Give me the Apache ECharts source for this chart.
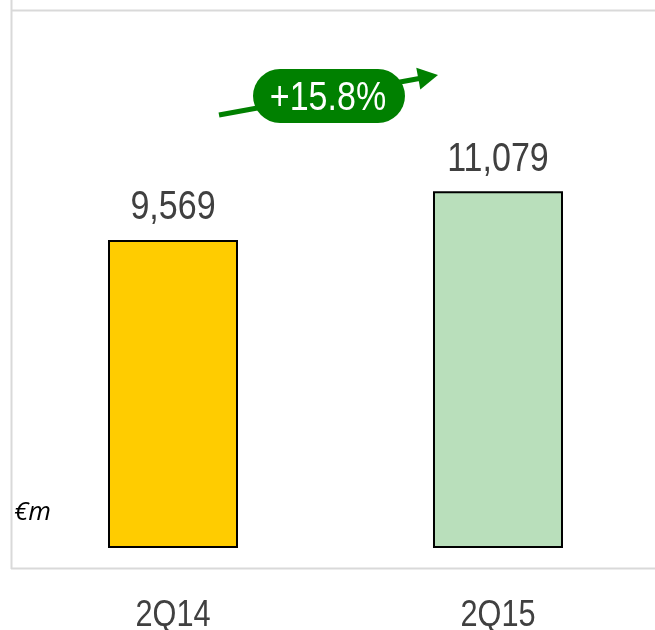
<!DOCTYPE html>
<html>
<head>
<meta charset="utf-8">
<script src="https://cdn.jsdelivr.net/npm/echarts@6/dist/echarts.min.js"></script>
<style>
html,body{margin:0;padding:0;background:#fff;}
#chart{width:655px;height:630px;}
</style>
</head>
<body>
<div id="chart"></div>
<script>
const categories = ['2Q14', '2Q15'];
const values = [9569, 11079];
const barColors = ['#FFCC00', '#B9DFBB'];
const growthLabel = '+15.8%';
const unitLabel = '€m';

const chart = echarts.init(document.getElementById('chart'));
const fontFam = '"Liberation Sans", Arial, sans-serif';
const SX = 0.83;

chart.setOption({
  animation: false,
  backgroundColor: '#ffffff',
  grid: { left: 10.5, right: 0, top: 97.2, bottom: 82 },
  xAxis: {
    type: 'value',
    min: -0.5,
    max: 1.4831,
    show: false,
    splitLine: { show: false }
  },
  yAxis: {
    type: 'value',
    min: 0,
    max: 14000,
    show: false,
    splitLine: { show: false }
  },
  series: [{
    type: 'bar',
    barWidth: 130,
    data: values.map((v, i) => ({
      value: [i, v],
      itemStyle: { color: barColors[i], borderColor: '#000000', borderWidth: 2 }
    })),
    label: { show: false }
  }]
});

const g = [
  { type: 'line', shape: { x1: 11.5, y1: 0, x2: 11.5, y2: 569 }, style: { stroke: '#D9D9D9', lineWidth: 2 } },
  { type: 'line', shape: { x1: 11, y1: 10.5, x2: 655, y2: 10.5 }, style: { stroke: '#D9D9D9', lineWidth: 2 } },
  { type: 'line', shape: { x1: 11, y1: 568.5, x2: 655, y2: 568.5 }, style: { stroke: '#D9D9D9', lineWidth: 2 } },
  { type: 'text', left: 14, top: 500, style: { text: unitLabel, fontSize: 26, fontStyle: 'italic', fill: '#000', fontFamily: '"Open Sans", sans-serif' } },
  { type: 'line', shape: { x1: 219, y1: 115, x2: 422, y2: 78 }, style: { stroke: '#008000', lineWidth: 5 } },
  { type: 'polygon', shape: { points: [[438, 75], [420.3, 89.4], [416.3, 67.8]] }, style: { fill: '#008000' } },
  { type: 'rect', shape: { x: 253, y: 69, width: 152, height: 54, r: 27 }, style: { fill: '#008000' } },
  { type: 'text', x: 328, y: 99, scaleX: SX, style: { text: growthLabel, fontSize: 41, fill: '#ffffff', fontFamily: fontFam, align: 'center', verticalAlign: 'middle' } }
];

values.forEach((v, i) => {
  const top = chart.convertToPixel({ seriesIndex: 0 }, [i, v]);
  const base = chart.convertToPixel({ seriesIndex: 0 }, [i, 0]);
  g.push({ type: 'text', x: top[0], y: top[1] - 32, scaleX: SX,
    style: { text: v.toLocaleString('en-US'), fontSize: 41, fill: '#404040', fontFamily: fontFam, align: 'center', verticalAlign: 'middle' } });
  g.push({ type: 'text', x: base[0], y: base[1] + 68, scaleX: SX,
    style: { text: categories[i], fontSize: 37, fill: '#404040', fontFamily: fontFam, align: 'center', verticalAlign: 'middle' } });
});

chart.setOption({ graphic: g });
</script>
</body>
</html>
